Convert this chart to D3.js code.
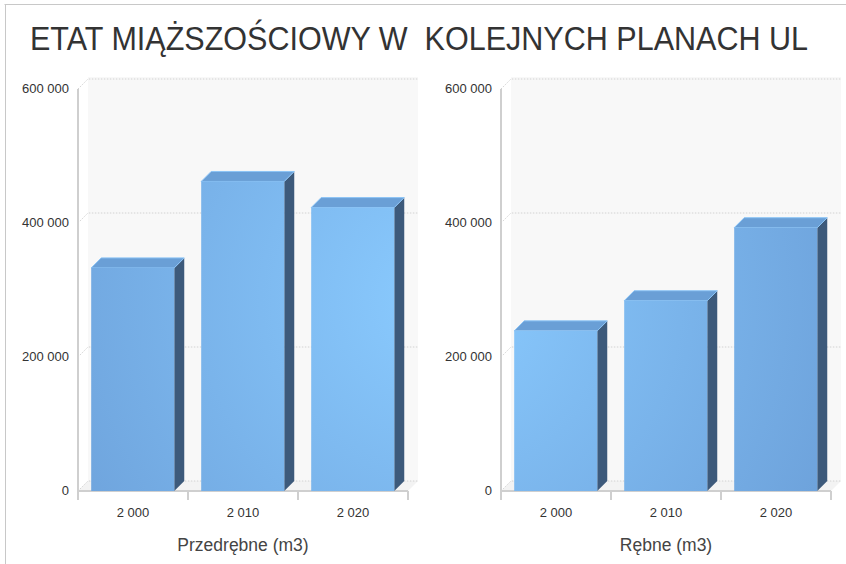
<!DOCTYPE html>
<html>
<head>
<meta charset="utf-8">
<script src="https://cdn.jsdelivr.net/npm/d3@7"></script>
<style>
  body { margin: 0; background: #fff; }
  text { font-family: "Liberation Sans", Arial, sans-serif; }
</style>
</head>
<body>
<div id="chart"></div>
<script>
// chart data
const title = "ETAT MIĄŻSZOŚCIOWY W  KOLEJNYCH PLANACH UL";
const years = ["2 000", "2 010", "2 020"];
const predrebne = [333000, 462000, 423000];
const rebne = [239000, 284000, 393000];
const yTicks = [0, 200000, 400000, 600000];
const panelTitles = ["Przedrębne (m3)", "Rębne (m3)"];

const width = 846, height = 564;
const depth = 10;          // 3d offset
const baseY = 491, topY = 89;

const svg = d3.select("#chart").append("svg")
    .attr("width", width)
    .attr("height", height);

const defs = svg.append("defs");
const grad = defs.append("radialGradient")
    .attr("id", "barFront")
    .attr("gradientUnits", "userSpaceOnUse")
    .attr("cx", 440).attr("cy", 300).attr("r", 420);
grad.append("stop").attr("offset", "0%").attr("stop-color", "#8acbff");
grad.append("stop").attr("offset", "100%").attr("stop-color", "#6ea3dc");

// outer frame (top + left)
svg.append("line").attr("x1", 4.5).attr("x2", width).attr("y1", 4.5).attr("y2", 4.5)
    .attr("stroke", "#c8c8c8");
svg.append("line").attr("x1", 5.5).attr("x2", 5.5).attr("y1", 4.5).attr("y2", height)
    .attr("stroke", "#c8c8c8");

// title, stretched vertically a bit like the narrow original font
svg.append("text")
    .attr("transform", "translate(419,50) scale(1,1.12)")
    .attr("text-anchor", "middle")
    .attr("font-size", 29)
    .attr("fill", "#333")
    .attr("textLength", 778)
    .attr("lengthAdjust", "spacingAndGlyphs")
    .style("white-space", "pre")
    .text(title);

const y = d3.scaleLinear().domain([0, 600000]).range([baseY, topY]);
const fmt = d => d3.format(",")(d).replace(/,/g, " ");

function drawPanel(axisX, values, label) {
    const g = svg.append("g");
    const x = d3.scaleBand().domain(years).range([axisX, axisX + 330]).padding(0);
    const bw = x.bandwidth();

    // back wall + floor
    g.append("rect")
        .attr("x", axisX + depth).attr("y", y(600000) - depth - 2)
        .attr("width", 330).attr("height", y(0) - y(600000) + 2)
        .attr("fill", "#f8f8f8");
    g.append("path")
        .attr("d", `M${axisX},${baseY}L${axisX + depth},${baseY - depth}L${axisX + 330 + depth},${baseY - depth}L${axisX + 330},${baseY}Z`)
        .attr("fill", "#f3f3f3");

    // gridlines
    yTicks.forEach(t => {
        g.append("path")
            .attr("d", `M${axisX},${y(t)}L${axisX + depth},${y(t) - depth}L${axisX + 330 + depth},${y(t) - depth}`)
            .attr("fill", "none")
            .attr("stroke", "#d2d2d2")
            .attr("stroke-dasharray", "1.5,1.5");
    });

    // y axis labels
    g.selectAll(".ylab").data(yTicks).join("text")
        .attr("x", axisX - 9).attr("y", d => y(d) + 4)
        .attr("text-anchor", "end")
        .attr("font-size", 13)
        .attr("fill", "#333")
        .text(fmt);

    // axes lines
    g.append("line").attr("x1", axisX).attr("x2", axisX).attr("y1", y(600000)).attr("y2", baseY + 9)
        .attr("stroke", "#cfcfcf").attr("stroke-width", 2);
    g.append("line").attr("x1", axisX).attr("x2", axisX + 330).attr("y1", baseY).attr("y2", baseY)
        .attr("stroke", "#cfcfcf").attr("stroke-width", 2);
    g.selectAll(".tick").data(years.concat(["end"])).join("line")
        .attr("x1", (d, i) => axisX + i * bw).attr("x2", (d, i) => axisX + i * bw)
        .attr("y1", baseY).attr("y2", baseY + 9)
        .attr("stroke", "#cfcfcf").attr("stroke-width", 2);

    // bars
    const data = years.map((c, i) => ({c, v: values[i]}));
    const bars = g.selectAll(".bar").data(data).join("g");
    const bx = d => x(d.c) + bw * 0.12;
    const fw = bw * 0.755;

    bars.append("path")
        .attr("d", d => `M${bx(d) + fw},${y(d.v)}L${bx(d) + fw + depth},${y(d.v) - depth}L${bx(d) + fw + depth},${baseY - depth}L${bx(d) + fw},${baseY}Z`)
        .attr("fill", "#3d5a7b");
    bars.append("path")
        .attr("d", d => `M${bx(d)},${y(d.v)}L${bx(d) + depth},${y(d.v) - depth}L${bx(d) + fw + depth},${y(d.v) - depth}L${bx(d) + fw},${y(d.v)}Z`)
        .attr("fill", "#6a9fd6")
        .attr("stroke", "#8cc4f6")
        .attr("stroke-width", 1);
    bars.append("rect")
        .attr("x", bx).attr("y", d => y(d.v))
        .attr("width", fw).attr("height", d => baseY - y(d.v))
        .attr("fill", "url(#barFront)");

    // x labels
    g.selectAll(".xlab").data(years).join("text")
        .attr("x", d => x(d) + bw / 2).attr("y", 517)
        .attr("text-anchor", "middle")
        .attr("font-size", 13)
        .attr("fill", "#333")
        .text(d => d);

    g.append("text")
        .attr("x", axisX + 165).attr("y", 551)
        .attr("text-anchor", "middle")
        .attr("font-size", 17.5)
        .attr("fill", "#444")
        .text(label);
}

drawPanel(78, predrebne, panelTitles[0]);
drawPanel(501, rebne, panelTitles[1]);
</script>
</body>
</html>
